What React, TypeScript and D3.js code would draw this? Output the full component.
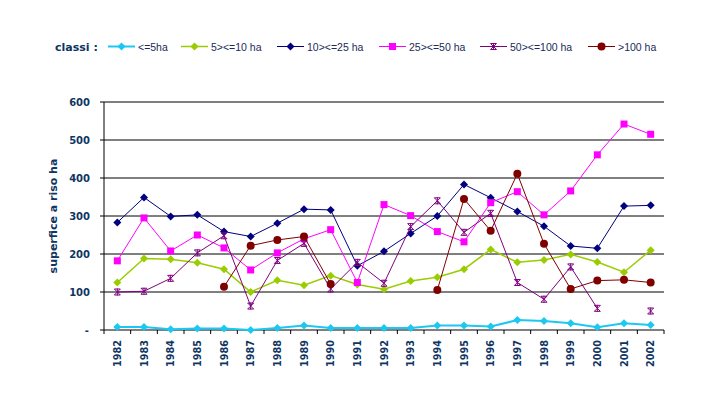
import React from "react";
import * as d3 from "d3";

const years = ["1982","1983","1984","1985","1986","1987","1988","1989","1990","1991","1992","1993","1994","1995","1996","1997","1998","1999","2000","2001","2002"];

const s5: (number | null)[] = [8, 8, 2, 4, 4, 0, 5, 12, 5, 5, 5, 5, 12, 12, 9, 26, 24, 18, 7, 18, 13];
const s10: (number | null)[] = [125, 188, 186, 177, 160, 100, 131, 118, 143, 120, 107, 129, 139, 160, 212, 178, 184, 199, 179, 152, 210];
const s25: (number | null)[] = [283, 349, 299, 303, 259, 246, 281, 318, 316, 169, 207, 254, 300, 383, 348, 312, 273, 221, 215, 326, 328];
const s50: (number | null)[] = [182, 295, 208, 250, 216, 158, 203, 240, 264, 125, 330, 301, 259, 232, 335, 364, 303, 366, 461, 542, 515];
const s100: (number | null)[] = [100, 102, 136, 203, 248, 63, 183, 228, 108, 178, 123, 272, 340, 257, 307, 125, 81, 166, 57, null, 50];
const sOver: (number | null)[] = [null, null, null, null, 114, 222, 237, 246, 121, null, null, null, 105, 345, 261, 411, 227, 108, 130, 132, 125];

const seriesNames = ["<=5ha", "5><=10 ha", "10><=25 ha", "25><=50 ha", "50><=100 ha", ">100 ha"];
const seriesValues = [s5, s10, s25, s50, s100, sOver];
const seriesColors = ["#1CC8F2", "#9ACD00", "#000080", "#FF00FF", "#800080", "#800000"];
const seriesMarkers = ["diamond", "diamond", "diamond", "square", "star", "circle"];
const seriesWidths = [2, 1.5, 1, 1, 1, 1];

const yTicks = [0, 100, 200, 300, 400, 500, 600];
const legendX = [108, 181, 277, 379, 480, 588];

const W = 705, H = 398;
const L = 104, R = 664, T = 102, B = 330;
const textColor = "#0F3563";
const boldFont = "'DejaVu Sans', Verdana, sans-serif";
const legendFont = "Arial, 'Liberation Sans', sans-serif";

function Marker({ kind, x, y, color }: { kind: string; x: number; y: number; color: string }) {
  if (kind === "diamond") {
    const s = 4;
    return <path d={`M${x},${y - s}L${x + s},${y}L${x},${y + s}L${x - s},${y}Z`} fill={color} />;
  }
  if (kind === "square") {
    const s = 3.5;
    return <rect x={x - s} y={y - s} width={2 * s} height={2 * s} fill={color} />;
  }
  if (kind === "circle") {
    return <circle cx={x} cy={y} r={4} fill={color} />;
  }
  const s = 3;
  return (
    <path
      d={`M${x - s},${y - s}L${x + s},${y + s}M${x - s},${y + s}L${x + s},${y - s}M${x},${y - s - 0.5}L${x},${y + s + 0.5}M${x - s},${y - s}L${x + s},${y - s}M${x - s},${y + s}L${x + s},${y + s}`}
      stroke={color}
      strokeWidth={1}
      fill="none"
    />
  );
}

export default function App() {
  const x = d3.scaleBand<string>().domain(years).range([L, R]);
  const cx = (yr: string) => (x(yr) as number) + x.bandwidth() / 2;
  const y = d3.scaleLinear().domain([0, 600]).range([B, T]);

  const line = d3
    .line<number | null>()
    .defined((d) => d !== null)
    .x((_, i) => cx(years[i]))
    .y((d) => y(d as number));

  return (
    <svg width={W} height={H} style={{ position: "absolute", left: 0, top: 0, background: "#fff" }}>
      <rect x={0} y={0} width={W} height={H} fill="#fff" />
      {/* legend */}
      <text x={55} y={50.5} fontSize={11} fontWeight="bold" fill={textColor} fontFamily={boldFont}>classi :</text>
      {seriesNames.map((n, i) => (
        <g key={n}>
          <line x1={legendX[i]} x2={legendX[i] + 27} y1={46.5} y2={46.5} stroke={seriesColors[i]} strokeWidth={seriesWidths[i]} />
          <Marker kind={seriesMarkers[i]} x={legendX[i] + 13.5} y={46.5} color={seriesColors[i]} />
          <text x={legendX[i] + 30} y={50.5} fontSize={10.5} fill="#1a2a5a" fontFamily={legendFont}>{n}</text>
        </g>
      ))}
      {/* grid */}
      {yTicks.filter((t) => t > 0).map((t) => (
        <line key={t} x1={L} x2={R} y1={y(t)} y2={y(t)} stroke="#000" strokeWidth={1} />
      ))}
      {/* y axis */}
      <line x1={L} x2={L} y1={T} y2={B} stroke="#000" />
      {yTicks.map((t) => (
        <g key={t}>
          <line x1={L - 4} x2={L} y1={y(t)} y2={y(t)} stroke="#000" />
          <text x={t === 0 ? 89 : 90} y={y(t) + 4} textAnchor="end" fontSize={10} fontWeight="bold" fill={textColor} fontFamily={boldFont}>
            {t === 0 ? "-" : String(t)}
          </text>
        </g>
      ))}
      <text transform={`translate(57,${(T + B) / 2}) rotate(-90)`} textAnchor="middle" fontSize={11} fontWeight="bold" fill={textColor} fontFamily={boldFont}>
        superfice a riso ha
      </text>
      {/* x axis */}
      <line x1={L} x2={R} y1={B} y2={B} stroke="#000" />
      {years.map((yr) => (
        <line key={"t" + yr} x1={x(yr) as number} x2={x(yr) as number} y1={B} y2={B + 4} stroke="#000" />
      ))}
      <line x1={R} x2={R} y1={B} y2={B + 4} stroke="#000" />
      {years.map((yr) => (
        <text key={yr} transform={`translate(${cx(yr) + 3.5},${B + 10}) rotate(-90)`} textAnchor="end" fontSize={9.7} fontWeight="bold" fill={textColor} fontFamily={boldFont}>
          {yr}
        </text>
      ))}
      {/* series */}
      {seriesValues.map((vals, si) => (
        <g key={si}>
          <path d={line(vals) || ""} fill="none" stroke={seriesColors[si]} strokeWidth={seriesWidths[si]} />
          {vals.map((v, i) =>
            v === null ? null : <Marker key={i} kind={seriesMarkers[si]} x={cx(years[i])} y={y(v)} color={seriesColors[si]} />
          )}
        </g>
      ))}
    </svg>
  );
}
